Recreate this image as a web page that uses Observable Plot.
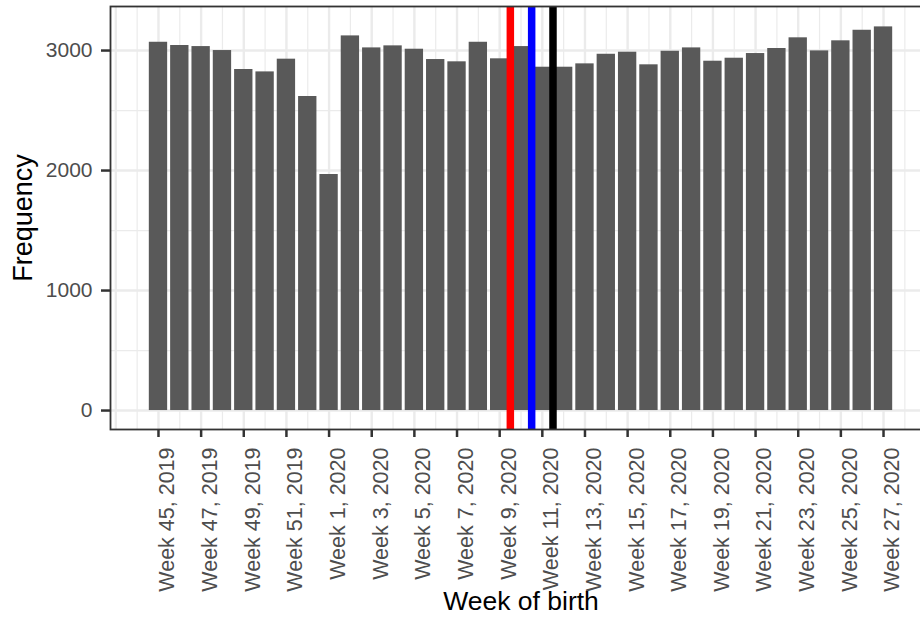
<!DOCTYPE html>
<html>
<head>
<meta charset="utf-8">
<script src="https://cdn.jsdelivr.net/npm/d3@7"></script>
<script src="https://cdn.jsdelivr.net/npm/@observablehq/plot@0.6"></script>
<style>
  html, body { margin: 0; padding: 0; background: #fff; }
  #wrap { width: 920px; height: 626px; overflow: hidden; position: relative; }
  #wrap svg { max-width: none !important; display: block; }
</style>
</head>
<body>
<div id="wrap"></div>
<script>
// Categories: ISO weeks of birth
const weekLabels = [
  "Week 45, 2019", "Week 46, 2019", "Week 47, 2019", "Week 48, 2019",
  "Week 49, 2019", "Week 50, 2019", "Week 51, 2019", "Week 52, 2019",
  "Week 1, 2020", "Week 2, 2020", "Week 3, 2020", "Week 4, 2020",
  "Week 5, 2020", "Week 6, 2020", "Week 7, 2020", "Week 8, 2020",
  "Week 9, 2020", "Week 10, 2020", "Week 11, 2020", "Week 12, 2020",
  "Week 13, 2020", "Week 14, 2020", "Week 15, 2020", "Week 16, 2020",
  "Week 17, 2020", "Week 18, 2020", "Week 19, 2020", "Week 20, 2020",
  "Week 21, 2020", "Week 22, 2020", "Week 23, 2020", "Week 24, 2020",
  "Week 25, 2020", "Week 26, 2020", "Week 27, 2020"
];

// Series values: frequency per week
const counts = [
  3069, 3042, 3033, 3000, 2842, 2822, 2928, 2617,
  1967, 3122, 3022, 3039, 3011, 2925, 2906, 3069,
  2931, 3033, 2861, 2861, 2889, 2969, 2986, 2881,
  2994, 3022, 2911, 2936, 2975, 3017, 3106, 2997,
  3081, 3169, 3197
];

// Tick labels shown on the x axis
const tickLabels = [
  "Week 45, 2019", "Week 47, 2019", "Week 49, 2019", "Week 51, 2019",
  "Week 1, 2020", "Week 3, 2020", "Week 5, 2020", "Week 7, 2020",
  "Week 9, 2020", "Week 11, 2020", "Week 13, 2020", "Week 15, 2020",
  "Week 17, 2020", "Week 19, 2020", "Week 21, 2020", "Week 23, 2020",
  "Week 25, 2020", "Week 27, 2020"
];
const yTicks = [0, 1000, 2000, 3000];
const yMinor = [500, 1500, 2500];

// Reference lines: drawn at the end of these weeks
const eventWeekEnds = ["Week 9, 2020", "Week 10, 2020", "Week 11, 2020"];
const eventColors = ["#FF0000", "#0000FF", "#000000"];

const data = weekLabels.map((w, i) => ({ i, w, n: counts[i] }));
const tickIdx = tickLabels.map(t => weekLabels.indexOf(t));
const events = eventWeekEnds.map((w, k) => ({ x: weekLabels.indexOf(w) + 0.5, c: eventColors[k] }));
const majorX = d3.range(-2, 37, 2);
const minorX = d3.range(-1, 37, 2);

const chart = Plot.plot({
  width: 932,
  height: 626,
  marginLeft: 110,
  marginRight: 1,
  marginTop: 6,
  marginBottom: 197,
  style: { fontFamily: "'Liberation Sans', Arial, sans-serif", background: "#fff", maxWidth: "none" },
  x: { domain: [-2.25, 36.25], label: null },
  y: { domain: [-158, 3367], label: null },
  marks: [
    Plot.ruleX(minorX, { stroke: "#EBEBEB", strokeWidth: 1.2 }),
    Plot.ruleY(yMinor, { stroke: "#EBEBEB", strokeWidth: 1.2 }),
    Plot.ruleX(majorX, { stroke: "#EBEBEB", strokeWidth: 2.4 }),
    Plot.ruleY(yTicks, { stroke: "#EBEBEB", strokeWidth: 2.4 }),
    Plot.rectY(data, { x1: d => d.i - 0.43, x2: d => d.i + 0.43, y: "n", fill: "#595959" }),
    Plot.ruleX(events, { x: "x", stroke: "c", strokeWidth: 7.5 }),
    Plot.frame({ stroke: "#333333", strokeWidth: 1.8 }),
    Plot.axisY({ ticks: yTicks, tickFormat: d => String(d), tickSize: 9, tickPadding: 9, fontSize: 21, stroke: "#333333", strokeWidth: 2.5, fill: "#4D4D4D", label: null }),
    Plot.axisX({ ticks: tickIdx, tickFormat: i => weekLabels[i], tickRotate: -90, tickSize: 8, tickPadding: 10, fontSize: 21.5, stroke: "#333333", strokeWidth: 2.5, fill: "#4D4D4D", label: null }),
    Plot.text(["Frequency"], { frameAnchor: "left", textAnchor: "middle", dx: -87, rotate: -90, fontSize: 27, fill: "#000" }),
    Plot.text(["Week of birth"], { frameAnchor: "bottom", textAnchor: "middle", dy: 180, fontSize: 26.5, fill: "#000" })
  ]
});
// nudge rotated x tick labels to sit right of their ticks, as in the reference
d3.select(chart).selectAll("g[aria-label='x-axis tick label'] text").each(function () {
  const t = this.getAttribute("transform") || "";
  this.setAttribute("transform", `translate(9,0) ${t}`);
});
document.getElementById("wrap").appendChild(chart);
</script>
</body>
</html>
